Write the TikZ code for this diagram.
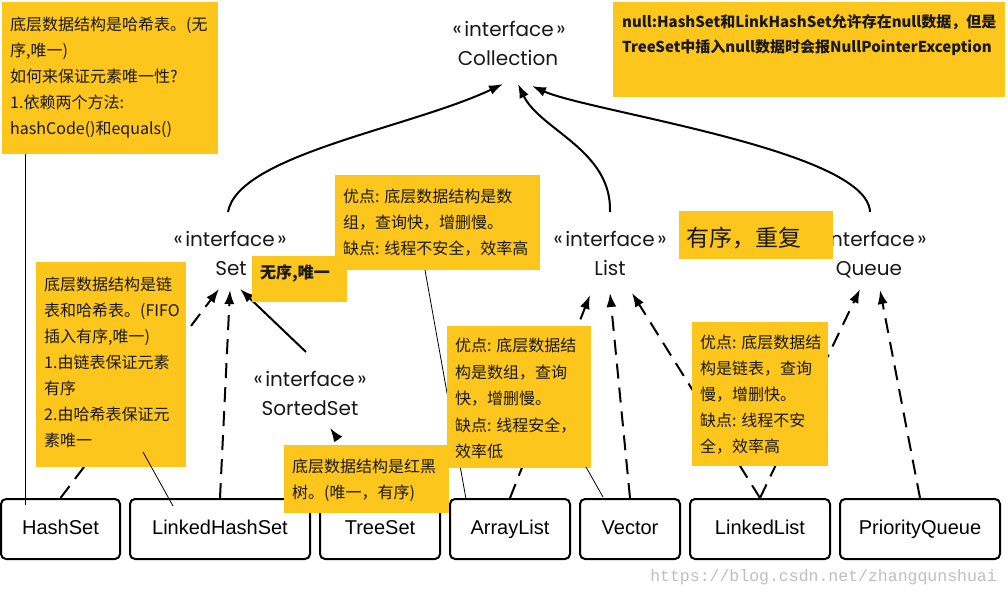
\documentclass[tikz,border=0pt]{standalone}
\usepackage{fontspec}
\setmainfont{Liberation Sans}
\newfontfamily\cjk{Noto Sans CJK SC}
\newfontfamily\geo{Poppins}
\newfontfamily\wm{Liberation Mono}
\usetikzlibrary{arrows.meta}
\definecolor{noteY}{RGB}{253,198,28}
\definecolor{ink}{RGB}{25,25,25}
\newcommand\ifc{\raisebox{0.5pt}{«}\kern2.5pt interface\kern2.5pt\raisebox{0.5pt}{»}}
\tikzset{
  implbox/.style={draw=black, line width=2pt, rounded corners=5pt, minimum height=60pt, inner sep=0pt, text height=14.5pt, text depth=4pt, font=\fontsize{20}{24}\selectfont},
  notebox/.style={fill=noteY, draw=none, inner sep=0pt, anchor=north west},
  ntext/.style={anchor=north west, inner sep=0pt, align=left, text=ink, font=\cjk\fontsize{16}{26}\selectfont},
  iface/.style={inner sep=0pt, text height=14pt, text depth=4pt, text=black!90, font=\geo\fontsize{20}{24}\selectfont},
  impl/.style={line width=2pt, dash pattern=on 15pt off 9pt, -{Latex[length=14pt,width=10pt]}},
  ext/.style={line width=2pt, -{Latex[length=14pt,width=10pt]}},
  thinline/.style={line width=0.8pt}
}
\begin{document}
\begin{tikzpicture}[x=1pt,y=-1pt]
\fill[white] (0,0) rectangle (1008,597);
\useasboundingbox (0,0) rectangle (1008,597);

% interface labels
\node[iface] (colI) at (509,31) {\ifc};
\node[iface] (colN) at (508,60) {Collection};
\node[iface] (setI) at (230,241) {\ifc};
\node[iface] (setN) at (231,270) {Set};
\node[iface] (listI) at (610,241) {\ifc};
\node[iface] (listN) at (610,270) {List};
\node[iface] (queI) at (870,241) {\ifc};
\node[iface] (queN) at (869,270) {Queue};
\node[iface] (ssI) at (310,381) {\ifc};
\node[iface] (ssN) at (310,410) {SortedSet};

% implementation boxes
\node[implbox, minimum width=119pt] (HashSet) at (60.5,529) {HashSet};
\node[implbox, minimum width=180pt] (LinkedHashSet) at (220,529) {LinkedHashSet};
\node[implbox, minimum width=120pt] (TreeSet) at (380,529) {TreeSet};
\node[implbox, minimum width=120pt] (ArrayList) at (510,529) {ArrayList};
\node[implbox, minimum width=100pt] (Vector) at (630,529) {Vector};
\node[implbox, minimum width=140pt] (LinkedList) at (760,529) {LinkedList};
\node[implbox, minimum width=160pt] (PriorityQueue) at (920,529) {PriorityQueue};

% arrow tips and ends
\coordinate (tipS1) at (219,289);
\coordinate (tipS2) at (230,290);
\coordinate (tipS3) at (240,289);
\coordinate (ssTop) at (306,352);
\coordinate (tipSS) at (330,428);
\coordinate (tipL1) at (590,295);
\coordinate (tipL2) at (610,293);
\coordinate (tipL3) at (632,293);
\coordinate (tipQ1) at (860,289);
\coordinate (tipQ2) at (880,290);
\coordinate (setTop) at (228,212);
\coordinate (listTop) at (610,212);
\coordinate (queTop) at (870,212);
\coordinate (tipC1) at (503,84);
\coordinate (tipC2) at (518,84);
\coordinate (tipC3) at (532,86);

\draw[impl] (HashSet.north) -- (tipS1);
\draw[impl] (LinkedHashSet.north) -- (tipS2);
\draw[ext] (ssTop) -- (tipS3);
\draw[impl] (TreeSet.north) -- (tipSS);
\draw[impl] (ArrayList.north) -- (tipL1);
\draw[impl] (Vector.north) -- (tipL2);
\draw[impl] (LinkedList.north) -- (tipL3);
\draw[impl] (LinkedList.north) -- (tipQ1);
\draw[impl] (PriorityQueue.north) -- (tipQ2);

\draw[ext] (setTop) .. controls (238,155) and (410,128) .. (tipC1);
\draw[ext] (listTop) .. controls (612,150) and (540,130) .. (tipC2);
\draw[ext] (queTop) .. controls (868,150) and (590,112) .. (tipC3);

% notes
\node[notebox, minimum width=216pt, minimum height=152pt] (nA) at (2,2) {};
\node[notebox, minimum width=392pt, minimum height=95pt] (nB) at (613,2) {};
\node[notebox, minimum width=205pt, minimum height=95pt] (nC) at (335,175) {};

\coordinate (cA) at (25,154);
\coordinate (hsIn) at (25,505);
\coordinate (cC) at (425,270);
\coordinate (alIn) at (466,499);
\draw[thinline] (cA) -- (hsIn);
\draw[thinline] (cC) -- (alIn);

\node[notebox, minimum width=95pt, minimum height=46pt] (nD) at (252,256) {};
\node[notebox, minimum width=150pt, minimum height=205pt] (nE) at (36,262) {};
\node[notebox, minimum width=165pt, minimum height=68pt] (nF) at (284,445) {};
\node[notebox, minimum width=144pt, minimum height=142pt] (nG) at (447,326) {};
\node[notebox, minimum width=154pt, minimum height=48pt] (nH) at (679,211) {};
\node[notebox, minimum width=136pt, minimum height=144pt] (nI) at (692,322) {};

\node[ntext] (tA) at (10,17) {底层数据结构是哈希表。(无\\序,唯一)\\如何来保证元素唯一性?\\1.依赖两个方法:\\hashCode()和equals()};
\node[ntext, font=\cjk\bfseries\fontsize{15}{25}\selectfont] (tB) at (622,14) {null:HashSet和LinkHashSet允许存在null数据，但是\\TreeSet中插入null数据时会报NullPointerException};
\node[ntext] (tC) at (343,189) {优点: 底层数据结构是数\\组，查询快，增删慢。\\缺点: 线程不安全，效率高};
\node[anchor=west, inner sep=0pt, text=ink, font=\cjk\bfseries\fontsize{16}{20}\selectfont] (tD) at (260,273) {无序,唯一};
\node[ntext] (tE) at (44,277) {底层数据结构是链\\表和哈希表。(FIFO\\插入有序,唯一)\\1.由链表保证元素\\有序\\2.由哈希表保证元\\素唯一};
\node[ntext] (tF) at (292,459) {底层数据结构是红黑\\树。(唯一，有序)};
\node[ntext, font=\cjk\fontsize{16}{26.5}\selectfont] (tG) at (455,338) {优点: 底层数据结\\构是数组，查询\\快，增删慢。\\缺点: 线程安全，\\效率低};
\node[anchor=west, inner sep=0pt, text=ink, font=\cjk\fontsize{23}{28}\selectfont] (tH) at (686,238) {有序，重复};
\node[ntext] (tI) at (700,335) {优点: 底层数据结\\构是链表，查询\\慢，增删快。\\缺点: 线程不安\\全，效率高};

\coordinate (cE) at (143,452);
\coordinate (lhsIn) at (173,506);
\coordinate (cG) at (586,467);
\coordinate (vecIn) at (603,497);
\draw[thinline] (cE) -- (lhsIn);
\draw[thinline] (cG) -- (vecIn);

\node[anchor=east, inner sep=0pt, text=black!25, font=\wm\fontsize{16.5}{18}\selectfont] (wmk) at (997,577) {https://blog.csdn.net/zhangqunshuai};
\end{tikzpicture}
\end{document}
